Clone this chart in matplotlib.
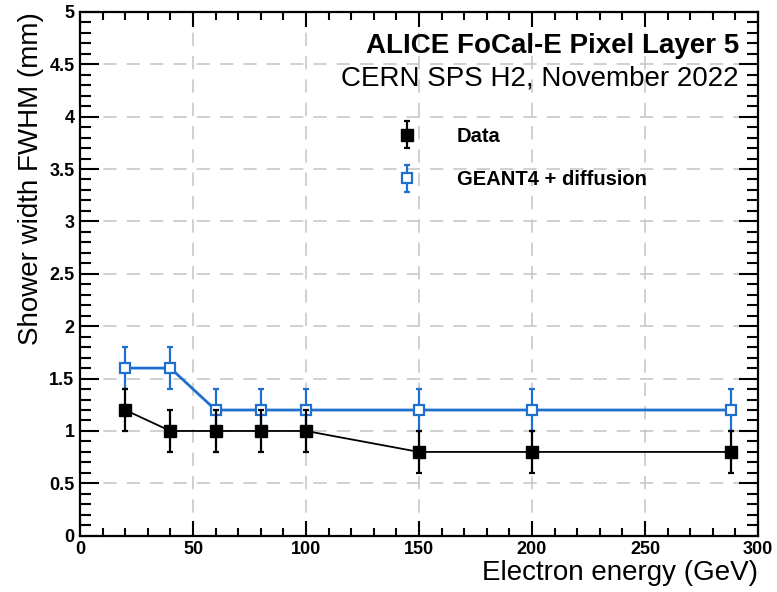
import numpy as np
import matplotlib.pyplot as plt
from matplotlib.ticker import MultipleLocator
from matplotlib.legend_handler import HandlerErrorbar

plt.rcParams['font.family'] = ['Liberation Sans', 'DejaVu Sans']

# energies in GeV
energy = [20, 40, 60, 80, 100, 150, 200, 288]
data_width = [1.2, 1.0, 1.0, 1.0, 1.0, 0.8, 0.8, 0.8]
data_err = [0.2, 0.2, 0.2, 0.2, 0.2, 0.2, 0.2, 0.2]
sim_width = [1.6, 1.6, 1.2, 1.2, 1.2, 1.2, 1.2, 1.2]
sim_err = [0.2, 0.2, 0.2, 0.2, 0.2, 0.2, 0.2, 0.2]

blue = '#1f6fd0'

fig = plt.figure(figsize=(7.77, 5.92), dpi=100)
ax = fig.add_axes([0.103, 0.095, 0.8725, 0.885])

# grid first so it sits below the data
ax.grid(True, which='major', color='#c8c8c8', linestyle=(0, (8, 6)), linewidth=1.2)
ax.set_axisbelow(True)

sim_style = dict(color=blue, marker='s', ms=7, mfc='white', mec=blue, mew=1.6,
                 capsize=2.5, capthick=1.6, elinewidth=1.6)
data_style = dict(color='black', marker='s', ms=9, mfc='black', mec='black',
                  capsize=2.5, capthick=1.6, elinewidth=1.6)

ax.errorbar(energy, sim_width, yerr=sim_err, lw=2.0, zorder=3, **sim_style)
ax.errorbar(energy, data_width, yerr=data_err, lw=1.3, zorder=4, **data_style)

# legend proxies: marker + error bar only, no connecting line
h_data = ax.errorbar([np.nan], [np.nan], yerr=[0.2], ls='none', **data_style)
h_sim = ax.errorbar([np.nan], [np.nan], yerr=[0.2], ls='none', **sim_style)

ax.set_xlim(0, 300)
ax.set_ylim(0, 5)
ax.xaxis.set_major_locator(MultipleLocator(50))
ax.xaxis.set_minor_locator(MultipleLocator(10))
ax.yaxis.set_major_locator(MultipleLocator(0.5))
ax.yaxis.set_minor_locator(MultipleLocator(0.1))
ax.yaxis.set_major_formatter(plt.FuncFormatter(lambda v, p: f'{v:g}'))

for s in ax.spines.values():
    s.set_linewidth(1.6)
ax.tick_params(axis='x', which='major', direction='in', length=11, width=1.5,
               top=True, labelsize=13, pad=4)
ax.tick_params(axis='x', which='minor', direction='in', length=6, width=1.5, top=True)
ax.tick_params(axis='y', which='major', direction='in', length=14, width=1.5,
               right=True, labelsize=13, pad=4)
ax.tick_params(axis='y', which='minor', direction='in', length=8, width=1.5, right=True)
for lab in ax.get_xticklabels() + ax.get_yticklabels():
    lab.set_fontweight('bold')

ax.set_xlabel('Electron energy (GeV)', fontsize=20, loc='right', labelpad=1)
ax.set_ylabel('Shower width FWHM (mm)', fontsize=20, loc='top', labelpad=4)

ax.text(0.972, 0.935, 'ALICE FoCal-E Pixel Layer 5', transform=ax.transAxes,
        ha='right', va='center', fontsize=20, fontweight='bold')
ax.text(0.972, 0.873, 'CERN SPS H2, November 2022', transform=ax.transAxes,
        ha='right', va='center', fontsize=20)

leg = ax.legend([h_data, h_sim], ['Data', 'GEANT4 + diffusion'], loc='upper left',
                bbox_to_anchor=(0.44, 0.815), frameon=False, fontsize=14.5,
                handlelength=1.0, handletextpad=2.0, labelspacing=1.2,
                handler_map={type(h_data): HandlerErrorbar(xerr_size=0.3, yerr_size=0.67)})
for t in leg.get_texts():
    t.set_fontweight('bold')

fig.savefig('out.png', dpi=100)
